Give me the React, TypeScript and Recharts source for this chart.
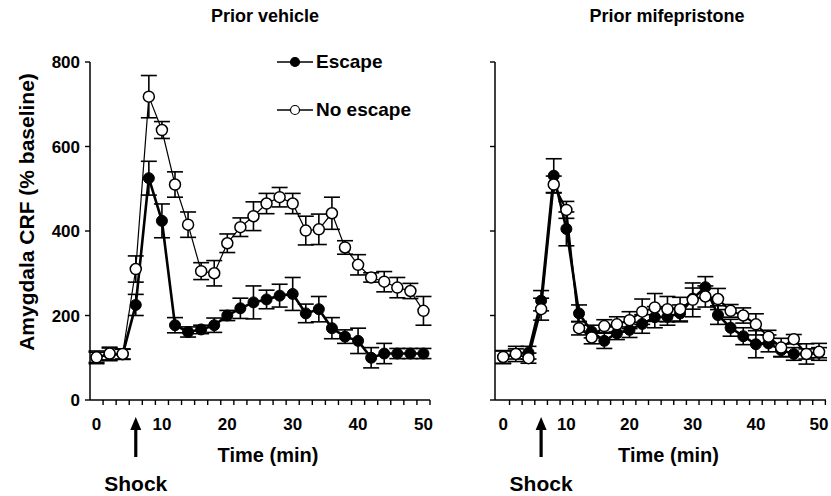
import { ComposedChart, ErrorBar, Line, XAxis, YAxis } from 'recharts'

const times = [0, 2, 4, 6, 8, 10, 12, 14, 16, 18, 20, 22, 24, 26, 28, 30, 32, 34, 36, 38, 40, 42, 44, 46, 48, 50]

// prior vehicle
const vehicleEscape = [101, 108, 108, 225, 525, 424, 177, 161, 167, 177, 200, 217, 231, 238, 247, 251, 205, 215, 170, 150, 140, 100, 110, 110, 110, 110]
const vehicleEscapeErr = [12, 15, 12, 25, 40, 40, 18, 12, 10, 17, 12, 24, 39, 22, 27, 39, 22, 30, 25, 16, 30, 24, 24, 12, 12, 12]
const vehicleNoEscape = [101, 110, 109, 310, 718, 639, 510, 415, 305, 300, 371, 409, 435, 465, 480, 465, 401, 404, 442, 361, 320, 290, 280, 266, 258, 211]
const vehicleNoEscapeErr = [15, 15, 12, 31, 50, 20, 30, 30, 20, 30, 22, 22, 34, 24, 23, 24, 34, 36, 38, 16, 24, 11, 24, 24, 18, 34]

// prior mifepristone
const mifeEscape = [101, 109, 112, 235, 531, 405, 205, 162, 140, 158, 166, 180, 196, 197, 205, 240, 267, 201, 171, 151, 132, 134, 118, 109, 109, 112]
const mifeEscapeErr = [15, 12, 15, 24, 40, 40, 20, 15, 18, 15, 18, 22, 25, 20, 20, 25, 25, 22, 20, 20, 32, 20, 15, 15, 12, 12]
const mifeNoEscape = [102, 109, 99, 215, 510, 450, 170, 148, 175, 179, 189, 209, 219, 215, 215, 237, 245, 239, 211, 200, 179, 150, 124, 144, 109, 114]
const mifeNoEscapeErr = [15, 18, 12, 26, 20, 20, 16, 15, 15, 18, 20, 30, 33, 30, 28, 40, 25, 25, 15, 18, 25, 15, 22, 11, 24, 20]

const yTicks = [0, 200, 400, 600, 800]
const xLabelTicks = [0, 10, 20, 30, 40, 50]
const xMinorTicks = [1, 3, 5, 7, 9, 11, 13, 15, 17, 19, 21, 23, 25, 27, 29, 31, 33, 35, 37, 39, 41, 43, 45, 47, 49, 51]
const shockTime = 6

const font = '"Liberation Sans", Arial, Helvetica, sans-serif'
const xTicks = [...new Set([...xLabelTicks, ...xMinorTicks, shockTime])].sort((a, b) => a - b)

const buildRows = (esc: number[], escErr: number[], noEsc: number[], noEscErr: number[]) =>
  times.map((t, i) => ({ t, esc: esc[i], escErr: escErr[i], noEsc: noEsc[i], noEscErr: noEscErr[i] }))

const vehicleRows = buildRows(vehicleEscape, vehicleEscapeErr, vehicleNoEscape, vehicleNoEscapeErr)
const mifeRows = buildRows(mifeEscape, mifeEscapeErr, mifeNoEscape, mifeNoEscapeErr)

function TimeTick({ x, y, payload }: { x: number; y: number; payload: { value: number } }) {
  const v = payload.value
  return <g>
    {xMinorTicks.includes(v) && <line x1={x} x2={x} y1={y} y2={y + 5} stroke="#000" strokeWidth={1.4} />}
    {xLabelTicks.includes(v) && <text x={x} y={y + 30} textAnchor="middle" fontFamily={font} fontSize={17} fontWeight="bold" fill="#000">{v}</text>}
    {v === shockTime && <g>
      <line x1={x} x2={x} y1={y + 26} y2={y + 57} stroke="#000" strokeWidth={3.2} />
      <polygon points={`${x - 5.5},${y + 30} ${x + 5.5},${y + 30} ${x},${y + 17}`} fill="#000" />
      <text x={x} y={y + 91} textAnchor="middle" fontFamily={font} fontSize={21} fontWeight="bold" fill="#000">Shock</text>
    </g>}
  </g>
}

function TimeLabel({ viewBox }: { viewBox?: { x: number; y: number; width: number } }) {
  if (!viewBox) return null
  return <text x={viewBox.x + viewBox.width / 2 + 8} y={viewBox.y + 62} textAnchor="middle" fontFamily={font} fontSize={20} fontWeight="bold" fill="#000">Time (min)</text>
}

type PanelProps = {
  rows: ReturnType<typeof buildRows>
  width: number
  axisWidth: number
  domain: [number, number]
  showYLabels: boolean
  noEscWidth: number
}

function Panel({ rows, width, axisWidth, domain, showYLabels, noEscWidth }: PanelProps) {
  return <ComposedChart width={width} height={496} data={rows} margin={{ top: 62, right: 5, bottom: 0, left: 0 }}>
    <XAxis
      dataKey="t" type="number" domain={domain} ticks={xTicks} interval={0} height={96}
      tickSize={0} tickMargin={0} tickLine={false} tick={TimeTick as never}
      axisLine={{ stroke: '#000', strokeWidth: 1.5 }} label={<TimeLabel />}
    />
    <YAxis
      type="number" domain={[0, 800]} ticks={yTicks} width={axisWidth} interval={0}
      tickSize={5} tickMargin={5} tickLine={{ stroke: '#000', strokeWidth: 1.4 }}
      axisLine={{ stroke: '#000', strokeWidth: 1.5 }}
      tick={showYLabels ? { fill: '#000', fontSize: 17, fontWeight: 'bold', fontFamily: font } : () => <g />}
    />
    <Line dataKey="esc" stroke="#000" strokeWidth={2.6} isAnimationActive={false}
      dot={{ r: 5.5, fill: '#000', stroke: '#000', strokeWidth: 1 }}>
      <ErrorBar dataKey="escErr" direction="y" width={8} stroke="#000" strokeWidth={1.6} />
    </Line>
    <Line dataKey="noEsc" stroke="#000" strokeWidth={noEscWidth} isAnimationActive={false}
      dot={{ r: 5.5, fill: '#fff', stroke: '#000', strokeWidth: 1.5 }}>
      <ErrorBar dataKey="noEscErr" direction="y" width={8} stroke="#000" strokeWidth={1.6} />
    </Line>
  </ComposedChart>
}

const textStyle = { position: 'absolute' as const, fontFamily: font, fontWeight: 'bold' as const, color: '#000', whiteSpace: 'nowrap' as const }

export default function App() {
  return <div style={{ position: 'absolute', left: 0, top: 0, width: 831, height: 496, background: '#fff', overflow: 'hidden' }}>
    <div style={{ position: 'absolute', left: 0, top: 0 }}>
      <Panel rows={vehicleRows} width={435} axisWidth={90} domain={[-1, 51]} showYLabels noEscWidth={1.2} />
    </div>
    <div style={{ position: 'absolute', left: 440, top: 0 }}>
      <Panel rows={mifeRows} width={391} axisWidth={55} domain={[-1.3, 51.1]} showYLabels={false} noEscWidth={2} />
    </div>

    <div style={{ ...textStyle, left: 165, width: 200, top: 6, textAlign: 'center', fontSize: 18 }}>Prior vehicle</div>
    <div style={{ ...textStyle, left: 567, width: 200, top: 6, textAlign: 'center', fontSize: 18 }}>Prior mifepristone</div>

    <div style={{ ...textStyle, left: 27, top: 212, fontSize: 21, transform: 'translate(-50%, -50%) rotate(-90deg)' }}>Amygdala CRF (% baseline)</div>

    <div style={{ position: 'absolute', left: 276, top: 48 }}>
      {[{ label: 'Escape', fill: '#000' }, { label: 'No escape', fill: '#fff' }].map((item, i) => (
        <div key={item.label} style={{ display: 'flex', alignItems: 'center', height: 28, marginBottom: i === 0 ? 20 : 0 }}>
          <svg width={40} height={14}>
            <line x1={1} x2={37} y1={7} y2={7} stroke="#000" strokeWidth={1.5} />
            <circle cx={19} cy={7} r={4.5} fill={item.fill} stroke="#000" strokeWidth={1.2} />
          </svg>
          <span style={{ fontFamily: font, fontWeight: 'bold', fontSize: 19, color: '#000' }}>{item.label}</span>
        </div>
      ))}
    </div>
  </div>
}
